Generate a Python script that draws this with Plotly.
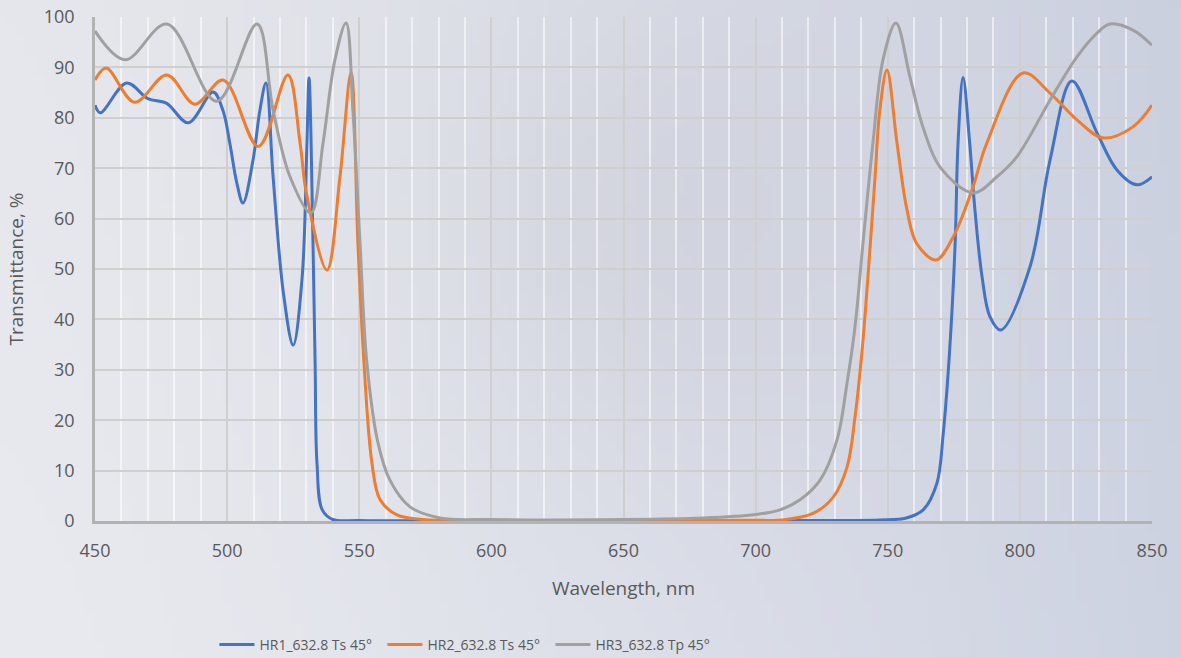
import base64, struct, zlib
import plotly.graph_objects as go

# ---------------- data ----------------
hr1_wl = [450, 452, 462, 470, 477, 485.3, 494.7, 498.4, 501, 503.7, 506, 509.8, 512.4, 514.7,
          517.4, 521.3, 525, 528.4, 530.2, 531, 532.5, 533.3, 534, 536, 540, 550, 600, 650, 700,
          747, 757, 763.4, 768.6, 771, 773.5, 775.5, 776.6, 778.5, 781, 783, 785.7,
          788.7, 792.8, 803.8, 811.4, 819.7, 829.2, 836.8, 844.3, 850]
hr1_t = [82.5, 81.0, 86.9, 83.8, 82.9, 79.0, 85.1, 81.5, 75, 67, 63.1, 71.6, 81.5, 86.9,
         68.3, 45.2, 34.9, 48.4, 75, 87.9, 55, 31.3, 11.5, 2.2, 0.3, 0.1, 0.05, 0.05, 0.1,
         0.2, 0.6, 2.2, 7.5, 17.4, 34.5, 55, 75, 88, 75, 61.7, 48.4,
         40.5, 37.9, 50.4, 71.6, 87.3, 77, 69.6, 66.7, 68.3]

hr2_wl = [450, 454.2, 465, 477.2, 487.8, 498.5, 511.8, 523, 527.6, 530, 537.8, 542.7, 546.9,
          549.5, 551.8, 554.8, 557.9, 564.3, 574, 600, 650, 700, 710, 721.7, 729.3, 734.6,
          737.6, 740.3, 742.5, 745.2, 747, 749.7, 753.5, 757.3, 761, 768.3, 774.7, 781.9,
          787.5, 801.2, 811.4, 821.6, 831.5, 842.8, 850]
hr2_t = [87.5, 89.9, 83.1, 88.5, 82.7, 87.5, 74.3, 88.5, 75, 65, 49.8, 68.3, 89,
         55, 31.3, 11.5, 4.2, 1.2, 0.3, 0.1, 0.1, 0.15, 0.2, 1.5, 4.7, 10.7,
         20.6, 33.9, 48.4, 68.3, 81.5, 89.5, 75, 61.7, 55, 51.8, 56.3, 65.7,
         75, 88.9, 84.9, 79.6, 76, 78.2, 82.5]

hr3_wl = [450, 461.4, 477.2, 496, 511.3, 517.4, 523.8, 531.7, 536.3, 540.8, 545, 547.6, 550.3,
          552.9, 557.1, 561.6, 569.2, 580.6, 600, 650, 680, 700, 709.2, 716.8, 724.4, 730.8,
          734.6, 737.6, 740.6, 744.4, 748.2, 753.1, 758.4, 763.3, 769.8, 782.3, 791.3, 798.9,
          811.4, 821.6, 829.2, 834.1, 842.8, 850]
hr3_t = [97.2, 91.5, 98.6, 83.3, 98.6, 81.5, 68.3, 61.1, 75, 91.5, 98.8, 81.5, 55,
         31.3, 15.5, 8.1, 2.8, 0.6, 0.3, 0.3, 0.6, 1.3, 2.2, 4.2, 8.1, 16.1,
         27.4, 38.5, 55, 75, 91.5, 98.8, 88.1, 78.2, 70.2, 65.1, 68.3, 72.3,
         83.5, 92.1, 96.8, 98.6, 97.4, 94.4]

series_names = ["HR1_632.8 Ts 45°", "HR2_632.8 Ts 45°", "HR3_632.8 Tp 45°"]
series_colors = ["#4472C4", "#ED7D31", "#A0A0A0"]
x_ticks = [450, 500, 550, 600, 650, 700, 750, 800, 850]
y_ticks = [0, 10, 20, 30, 40, 50, 60, 70, 80, 90, 100]

# ---------------- background gradient image ----------------
def gradient_png(w, h):
    left = (230, 231, 236)
    right = (203, 208, 223)
    rows = []
    for j in range(h):
        s = j / (h - 1)
        row = bytearray([0])
        for i in range(w):
            t = i / (w - 1)
            dx, dy = (t - 0.55) / 0.18, (s - 0.35) / 0.35
            blob = 8 * pow(2.718, -(dx * dx + dy * dy))
            for c in range(3):
                v = left[c] + (right[c] - left[c]) * (t ** 1.3) - blob + 3 * s
                row.append(max(0, min(255, int(v))))
        rows.append(bytes(row))
    raw = b"".join(rows)

    def chunk(tag, data):
        c = struct.pack(">I", len(data)) + tag + data
        return c + struct.pack(">I", zlib.crc32(tag + data) & 0xFFFFFFFF)

    png = b"\x89PNG\r\n\x1a\n" + chunk(b"IHDR", struct.pack(">IIBBBBB", w, h, 8, 2, 0, 0, 0))
    png += chunk(b"IDAT", zlib.compress(raw, 9)) + chunk(b"IEND", b"")
    return "data:image/png;base64," + base64.b64encode(png).decode()

W, H = 1181, 658
ML, MR, MT, MB = 95, 29, 17, 137
PW, PH = W - ML - MR, H - MT - MB

fig = go.Figure()
for wl, t, name, col in zip([hr1_wl, hr2_wl, hr3_wl], [hr1_t, hr2_t, hr3_t], series_names, series_colors):
    fig.add_trace(go.Scatter(x=wl, y=t, name=name, mode="lines",
                             line=dict(color=col, width=3, shape="spline", smoothing=1.0)))

tick_font = dict(family="Open Sans, Lato, sans-serif", size=18, color="#595959")
title_font = dict(family="Open Sans, Lato, sans-serif", size=19, color="#595959")

fig.update_layout(
    width=W, height=H,
    margin=dict(l=ML, r=MR, t=MT, b=MB, autoexpand=False),
    paper_bgcolor="#e4e5ea",
    plot_bgcolor="rgba(0,0,0,0)",
    images=[dict(source=gradient_png(120, 66), xref="paper", yref="paper",
                 x=-ML / PW, y=1 + MT / PH, sizex=W / PW, sizey=H / PH,
                 xanchor="left", yanchor="top", sizing="stretch", layer="below")],
    showlegend=True,
    legend=dict(orientation="h", x=0.113, xanchor="left", y=-0.246, yanchor="middle",
                font=dict(family="Open Sans, sans-serif", size=14, color="#595959"),
                entrywidth=118, entrywidthmode="pixels", bgcolor="rgba(0,0,0,0)",
                itemwidth=35),
    xaxis=dict(range=[450, 850], tickvals=x_ticks, ticktext=[str(v) for v in x_ticks],
               showgrid=True, gridcolor="#cfcfcf", gridwidth=1.5,
               minor=dict(dtick=10, tick0=450, showgrid=True, gridcolor="rgba(255,255,255,0.55)", gridwidth=1.5),
               showline=True, linecolor="#b3b3b3", linewidth=2.5, zeroline=False,
               ticks="", tickfont=tick_font, ticklabelstandoff=12,
               title=dict(text="Wavelength, nm", font=title_font, standoff=21)),
    yaxis=dict(range=[0, 100], tickvals=y_ticks, ticktext=[str(v) for v in y_ticks],
               showgrid=True, gridcolor="#cfcfcf", gridwidth=1.5,
               showline=True, linecolor="#b3b3b3", linewidth=2.5, zeroline=False,
               ticks="", tickfont=tick_font, ticklabelstandoff=14,
               title=dict(text="Transmittance, %", font=title_font, standoff=16)),
)

fig.write_html("out.html", config={"displayModeBar": False},
               post_script="document.body.style.margin='0px';document.body.style.overflow='hidden';")
